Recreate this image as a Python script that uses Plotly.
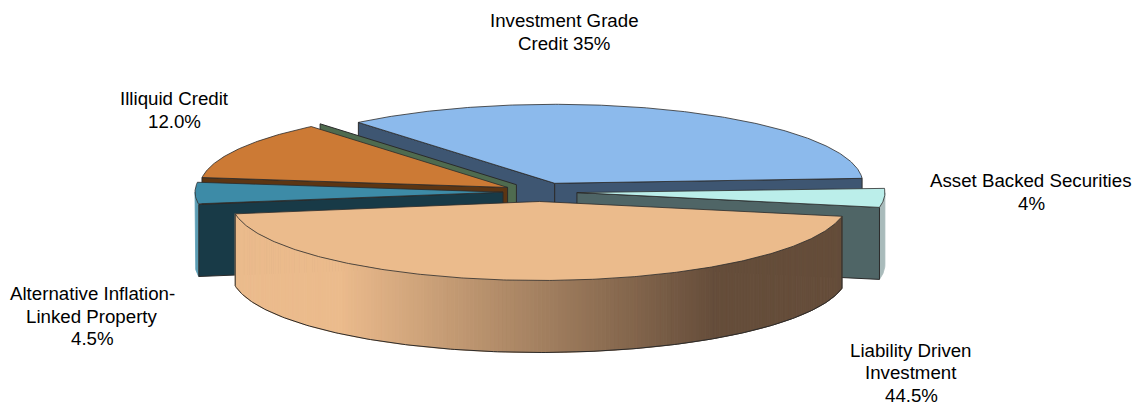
import numpy as np
import plotly.graph_objects as go

# Data
categories = ["Investment Grade Credit", "Asset Backed Securities", "Liability Driven Investment",
              "Alternative Inflation-Linked Property", "Illiquid Credit", "Other"]
values = [35.0, 4.0, 44.5, 4.5, 12.0, 0.0]
label_lines = [["Investment Grade", "Credit 35%"], ["Asset Backed Securities", "4%"],
               ["Liability Driven", "Investment", "44.5%"], ["Alternative Inflation-", "Linked Property", "4.5%"],
               ["Illiquid Credit", "12.0%"], []]
label_x = [564, 1031, 911, 92, 174, 0]
label_y = [32, 192, 372.6, 316, 110, 0]

top_colors = ["#8CBAEC", "#BBEEEA", "#EBBB8C", "#3D8BA7", "#CC7A35", "#5A7558"]
wall_colors = ["#3E5672", "#4F6566", "#664E3B", "#183A47", "#5C3513", "#4F6B4F"]
rim_colors = ["#3E5672", "#A9BBBB", None, "#5C9DB4", "#5C3513", "#4F6B4F"]
draw_order = [0, 5, 4, 1, 3, 2]

# Projection of the pie
CX, CY, RX, RY, DEPTH, EXPLODE, START = 540.0, 192.0, 308.0, 79.0, 72.0, 37.0, 129.6
EDGE = "#2b2b2b"
LINE_STEP = 22.6
PAGE_MARGIN = 8  # the page body is inset by this many pixels

W, H = 1140, 403
fig = go.Figure()


def pt(apex, deg):
    t = np.radians(deg)
    return apex[0] + RX * np.cos(t), apex[1] - RY * np.sin(t)


def poly(xs, ys, fill, line=EDGE, width=1.0):
    fig.add_trace(go.Scatter(x=list(xs), y=list(ys), mode="lines", fill="toself", fillcolor=fill,
                             line=dict(color=line, width=width), hoverinfo="skip", showlegend=False))


def wall(apex, deg, color):
    x, y = pt(apex, deg)
    poly([apex[0], x, x, apex[0], apex[0]],
         [apex[1], y, y + DEPTH, apex[1] + DEPTH, apex[1]], color)


def lerp_color(frac):
    a, b = np.array([0xEB, 0xBB, 0x8C]), np.array([0x65, 0x4D, 0x3A])
    c = a + (b - a) * np.clip(frac, 0, 1)
    return "rgb(%d,%d,%d)" % tuple(c.round().astype(int))


def rim(apex, a1, a2, color):
    # front-facing part of the outer arc: a1 > a2 going clockwise, sin < 0
    ts = np.arange(a1, a2 - 1e-6, -0.75 if color is None else -0.25)
    ts = np.append(ts, a2)
    ts = np.array([v for v in ts if np.sin(np.radians(v)) <= 1e-9])
    if len(ts) < 2:
        return
    px, py = pt(apex, ts)
    if color is None:
        for i in range(len(ts) - 1):
            mid = (px[i] + px[i + 1]) / 2
            col = lerp_color((mid - (apex[0] - 0.65 * RX)) / (1.22 * RX))
            poly([px[i], px[i + 1], px[i + 1], px[i], px[i]],
                 [py[i], py[i + 1], py[i + 1] + DEPTH, py[i] + DEPTH, py[i]], col, col, 1.0)
        # outline of the large front rim
        fig.add_trace(go.Scatter(x=list(px), y=list(py + DEPTH), mode="lines",
                                 line=dict(color=EDGE, width=1), hoverinfo="skip", showlegend=False))
        for k in (0, -1):
            fig.add_trace(go.Scatter(x=[px[k], px[k]], y=[py[k], py[k] + DEPTH], mode="lines",
                                     line=dict(color=EDGE, width=1), hoverinfo="skip", showlegend=False))
    else:
        poly(list(px) + list(px[::-1]) + [px[0]],
             list(py) + list(py[::-1] + DEPTH) + [py[0]], color, color, 0.8)


# slice angles come from the values, clockwise from the start angle
total = sum(values)
spans = [v / total * 360 for v in values]
starts = START - np.concatenate([[0], np.cumsum(spans)[:-1]])

for idx in draw_order:
    a1 = starts[idx]
    a2 = a1 - spans[idx]
    mid = np.radians((a1 + a2) / 2)
    apex = (CX + EXPLODE * np.cos(mid), CY - EXPLODE * RY / RX * np.sin(mid))
    rim(apex, a1, a2, rim_colors[idx])
    if np.cos(np.radians(a1)) < 0:
        wall(apex, a1, wall_colors[idx])
    if np.cos(np.radians(a2)) > 0 and spans[idx] > 0:
        wall(apex, a2, wall_colors[idx])
    if spans[idx] > 0:
        ts = np.linspace(a1, a2, max(int(spans[idx] * 2), 3))
        ax, ay = pt(apex, ts)
        poly([apex[0], *ax, apex[0]], [apex[1], *ay, apex[1]], top_colors[idx], EDGE, 0.8)

for lines, x, y in zip(label_lines, label_x, label_y):
    for i, line in enumerate(lines):
        fig.add_annotation(x=x, y=y + (i - (len(lines) - 1) / 2) * LINE_STEP, xref="x", yref="y",
                           text=line, showarrow=False, align="center",
                           xanchor="center", yanchor="middle",
                           font=dict(family="Liberation Sans", size=18.7, color="#000000"))

fig.update_layout(width=W, height=H, margin=dict(l=0, r=0, t=0, b=0), autosize=False,
                  paper_bgcolor="white", plot_bgcolor="white", showlegend=False,
                  xaxis=dict(range=[PAGE_MARGIN, W + PAGE_MARGIN], visible=False, fixedrange=True),
                  yaxis=dict(range=[H + PAGE_MARGIN, PAGE_MARGIN], visible=False, fixedrange=True))
fig.write_html("out.html", config=dict(displayModeBar=False))
